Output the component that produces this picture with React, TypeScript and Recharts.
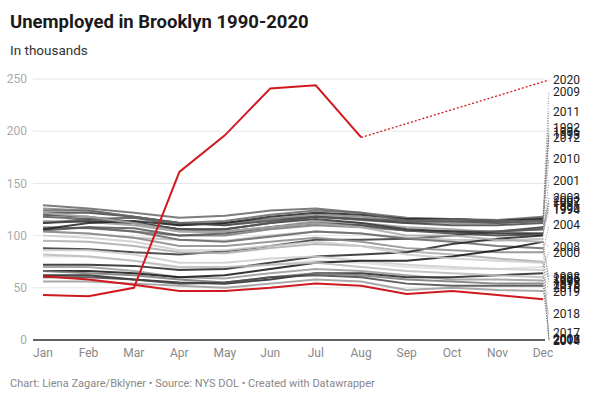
import React from 'react';
import { LineChart, Line, XAxis, YAxis, CartesianGrid, ReferenceLine, ReferenceDot } from 'recharts';

const months = ['Jan', 'Feb', 'Mar', 'Apr', 'May', 'Jun', 'Jul', 'Aug', 'Sep', 'Oct', 'Nov', 'Dec'];
const yTicks = [0, 50, 100, 150, 200, 250];

const v1990 = [88, 87, 84, 82, 85, 90, 96, 96, 97, 100, 104, 108];
const v1991 = [112, 116, 117, 110, 112, 116, 118, 115, 112, 113, 114, 117];
const v1992 = [129, 126, 122, 117, 119, 124, 126, 122, 117, 116, 115, 118];
const v1993 = [126, 124, 118, 112, 110, 116, 120, 118, 114, 112, 112, 114];
const v1994 = [120, 118, 113, 106, 104, 108, 112, 110, 105, 102, 100, 101];
const v1995 = [104, 102, 98, 96, 95, 100, 104, 102, 98, 96, 95, 97];
const v1996 = [106, 108, 104, 100, 100, 106, 110, 108, 105, 104, 104, 106];
const v1997 = [114, 113, 110, 104, 103, 108, 114, 112, 108, 106, 103, 102];
const v1998 = [108, 107, 104, 96, 94, 99, 104, 102, 97, 94, 90, 88];
const v1999 = [95, 94, 90, 84, 83, 88, 92, 90, 85, 82, 78, 75];
const v2000 = [80, 80, 76, 68, 68, 72, 76, 74, 70, 68, 68, 70];
const v2001 = [72, 72, 71, 67, 68, 74, 80, 82, 84, 92, 97, 100];
const v2002 = [105, 108, 107, 100, 102, 108, 112, 110, 105, 104, 104, 106];
const v2003 = [112, 114, 112, 106, 106, 112, 116, 112, 106, 104, 102, 102];
const v2004 = [104, 102, 98, 90, 90, 94, 98, 94, 88, 86, 84, 84];
const v2005 = [86, 86, 82, 74, 74, 78, 80, 76, 72, 70, 68, 67];
const v2006 = [70, 70, 66, 60, 59, 64, 68, 66, 62, 58, 58, 57];
const v2007 = [62, 62, 58, 55, 54, 58, 64, 64, 60, 60, 62, 64];
const v2008 = [66, 66, 64, 60, 62, 68, 74, 76, 76, 80, 86, 94];
const v2009 = [106, 112, 114, 110, 112, 118, 122, 120, 116, 116, 114, 116];
const v2010 = [122, 122, 118, 112, 110, 114, 118, 116, 112, 110, 110, 112];
const v2011 = [118, 116, 112, 106, 106, 112, 118, 116, 114, 114, 112, 114];
const v2012 = [124, 124, 118, 112, 114, 120, 124, 122, 114, 116, 114, 114];
const v2013 = [122, 118, 112, 104, 104, 108, 112, 108, 100, 100, 96, 94];
const v2014 = [100, 98, 94, 86, 86, 90, 94, 90, 82, 78, 76, 74];
const v2015 = [82, 80, 76, 70, 70, 72, 74, 70, 66, 64, 62, 60];
const v2016 = [66, 64, 62, 58, 55, 60, 64, 62, 58, 56, 54, 54];
const v2017 = [60, 60, 58, 54, 55, 60, 62, 60, 54, 52, 52, 52];
const v2018 = [56, 56, 54, 52, 50, 54, 58, 56, 48, 50, 48, 47];
const v2019 = [61, 58, 53, 47, 47, 50, 54, 52, 44, 47, 43, 39];
const v2020 = [43, 42, 50, 161, 196, 241, 244, 194];

const grayYears = [
  1990, 1991, 1992, 1993, 1994, 1995, 1996, 1997, 1998, 1999,
  2000, 2001, 2002, 2003, 2004, 2005, 2006, 2007, 2008, 2009,
  2010, 2011, 2012, 2013, 2014, 2015, 2016, 2017, 2018,
];
const redYears = [2019, 2020];
const seriesValues: Record<number, (number | null)[]> = {
  1990: v1990, 1991: v1991, 1992: v1992, 1993: v1993, 1994: v1994, 1995: v1995,
  1996: v1996, 1997: v1997, 1998: v1998, 1999: v1999, 2000: v2000, 2001: v2001,
  2002: v2002, 2003: v2003, 2004: v2004, 2005: v2005, 2006: v2006, 2007: v2007,
  2008: v2008, 2009: v2009, 2010: v2010, 2011: v2011, 2012: v2012, 2013: v2013,
  2014: v2014, 2015: v2015, 2016: v2016, 2017: v2017, 2018: v2018, 2019: v2019,
  2020: v2020,
};

// where each year's end label sits (in data units), as laid out in the reference
const labelAt: Record<number, number> = {
  2020: 249, 2009: 238, 2011: 219, 1992: 203, 1996: 199.5, 1993: 196.5, 2012: 193.5,
  2010: 174, 2001: 153, 2003: 136, 2002: 133.5, 1997: 131, 1991: 128.5, 1990: 126,
  1994: 124.5, 2004: 110, 2008: 89, 2000: 84, 1998: 61, 2005: 59, 1999: 57, 1995: 55,
  2015: 52.5, 2016: 50, 2019: 46, 2018: 25, 2017: 6.5, 2006: 1, 2007: 0.5, 2013: 0,
  2014: -0.5,
};

const shadeOf: Record<number, string> = {
  1990: '#333', 1991: '#555', 1992: '#666', 1993: '#888', 1994: '#444', 1995: '#bbb',
  1996: '#777', 1997: '#999', 1998: '#666', 1999: '#aaa', 2000: '#ddd', 2001: '#222',
  2002: '#555', 2003: '#333', 2004: '#888', 2005: '#ccc', 2006: '#999', 2007: '#222',
  2008: '#111', 2009: '#222', 2010: '#444', 2011: '#555', 2012: '#666', 2013: '#aaa',
  2014: '#ccc', 2015: '#bbb', 2016: '#777', 2017: '#444', 2018: '#999',
};

const RED = '#d0191f';
const FONT = 'Roboto, "Noto Sans", sans-serif';

const rows = months.map((_, i) => {
  const r: Record<string, number> = { m: i };
  Object.keys(seriesValues).forEach((k) => {
    const v = seriesValues[+k][i];
    if (v !== undefined && v !== null) r['y' + k] = v;
  });
  return r;
});

const lastIndex = (y: number) => seriesValues[y].length - 1;

export default function App() {
  const allYears = [...grayYears, ...redYears];
  return (
    <div style={{ position: 'absolute', left: 0, top: 0, width: 600, height: 406, background: '#fff', fontFamily: FONT }}>
      <div style={{ position: 'absolute', left: 10, top: 12, fontSize: 18.5, lineHeight: '20px', fontWeight: 700, color: '#1a1a1a', whiteSpace: 'nowrap' }}>
        Unemployed in Brooklyn 1990-2020
      </div>
      <div style={{ position: 'absolute', left: 10, top: 43, fontSize: 13.5, lineHeight: '14px', color: '#333', whiteSpace: 'nowrap' }}>
        In thousands
      </div>
      <div style={{ position: 'absolute', left: 0, top: 0 }}>
        <LineChart width={600} height={406} data={rows} margin={{ top: 79, right: 55, bottom: 36, left: 0 }}>
          <CartesianGrid vertical={false} stroke="#e6e6e6" />
          <XAxis
            dataKey="m"
            type="number"
            domain={[0, 11]}
            ticks={months.map((_, i) => i)}
            tickFormatter={(i: number) => months[i]}
            padding={{ left: 10, right: 2 }}
            axisLine={false}
            tickLine={false}
            interval={0}
            height={30}
            tick={{ fill: '#888', fontSize: 12, fontFamily: FONT }}
          />
          <YAxis
            domain={[0, 250]}
            ticks={yTicks}
            width={33}
            axisLine={false}
            tickLine={false}
            tickMargin={0}
            tick={{ fill: '#aaa', fontSize: 12, fontFamily: FONT }}
          />
          <ReferenceLine y={0} stroke="#333" strokeWidth={1.5} />
          {grayYears.map((y) => (
            <Line
              key={y}
              dataKey={'y' + y}
              stroke={shadeOf[y]}
              strokeWidth={2}
              strokeOpacity={0.85}
              dot={false}
              isAnimationActive={false}
            />
          ))}
          {redYears.map((y) => (
            <Line
              key={y}
              dataKey={'y' + y}
              stroke={RED}
              strokeWidth={2}
              dot={false}
              isAnimationActive={false}
            />
          ))}
          {allYears.map((y) => {
            const li = lastIndex(y);
            const endV = seriesValues[y][li] as number;
            const isRed = y === 2020;
            return (
              <ReferenceLine
                key={'l' + y}
                segment={[{ x: li, y: endV }, { x: 11.13, y: labelAt[y] }]}
                ifOverflow="visible"
                stroke={isRed ? RED : '#777'}
                strokeWidth={isRed ? 1.3 : 0.8}
                strokeDasharray={isRed ? '2 2' : '1 1.5'}
              />
            );
          })}
          {allYears.map((y) => (
            <ReferenceDot
              key={'d' + y}
              x={11.13}
              y={labelAt[y]}
              r={0}
              ifOverflow="visible"
              stroke="none"
              fill="none"
              label={{ value: String(y), position: 'right', offset: 4, fill: '#222', fontSize: 12, fontFamily: FONT }}
            />
          ))}
        </LineChart>
      </div>
      <div style={{ position: 'absolute', left: 10, top: 378, fontSize: 11, lineHeight: '12px', color: '#888', whiteSpace: 'nowrap' }}>
        Chart: Liena Zagare/Bklyner • Source: NYS DOL • Created with Datawrapper
      </div>
    </div>
  );
}
